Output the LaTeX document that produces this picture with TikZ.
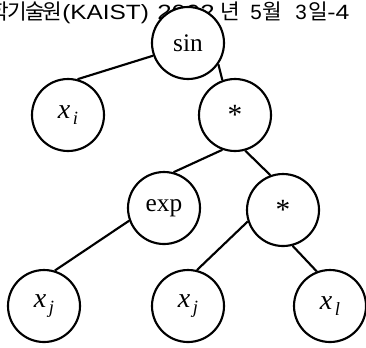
\documentclass[tikz,border=0pt]{standalone}
\usepackage{fontspec}
\setmainfont{Liberation Serif}
\newfontfamily\krfont[LetterSpace=-8]{Noto Sans CJK KR}
\newfontfamily\lsans{Liberation Sans}
\newcommand{\xvar}[1]{{\fontsize{21}{21}\selectfont\itshape x}\hspace{2pt}\raisebox{-4.5pt}{\fontsize{14}{14}\selectfont\itshape #1}}
\begin{document}
\begin{tikzpicture}[x=0.75pt,y=-0.75pt,
  tnode/.style={circle,draw=black,fill=white,line width=1.6pt,minimum size=54pt,inner sep=0pt,font=\fontsize{19}{19}\selectfont},
  kr/.style={anchor=base west,inner sep=0pt,font=\krfont\fontsize{16}{16}\selectfont},
  lat/.style={anchor=base west,inner sep=0pt,font=\lsans\fontsize{15.5}{15.5}\selectfont},
  edge/.style={draw=black,line width=1.6pt}]
\useasboundingbox (0,0) rectangle (366,347);
% header line (cut off at the left)
\node[kr] (h1) at (-29,19) {과학기술원};
\node[lat] (h2) at (62,19) {\scalebox{1.18}[1]{(KAIST)}};
\node[lat] (h3) at (157,19) {\scalebox{1.25}[1]{2002}};
\node[kr] (h4) at (220,19) {년};
\node[lat] (h5) at (250,19) {5};
\node[kr] (h6) at (262,19) {월};
\node[lat] (h7) at (295,19) {3};
\node[kr] (h8) at (308,19) {일};
\node[lat] (h9) at (327,19) {\scalebox{1.2}[1]{-4}};
% tree
\node[tnode] (sin) at (188,43) {sin};
\node[tnode] (xi) at (68,115) {\xvar{i}};
\node[tnode] (m1) at (235,115) {\raisebox{-0.12em}{\fontsize{22}{22}\selectfont *}};
\node[tnode] (exp) at (164,208) {exp};
\node[tnode] (m2) at (283,210) {\raisebox{-0.12em}{\fontsize{22}{22}\selectfont *}};
\node[tnode] (xj1) at (44,306) {\xvar{j}};
\node[tnode] (xj2) at (188,306) {\xvar{j}};
\node[tnode] (xl) at (330,306) {\xvar{l}};
\draw[edge] (sin.200) -- (xi.75);
\draw[edge] (sin.-35) -- (m1.110);
\draw[edge] (m1.250) -- (exp.75);
\draw[edge] (m1.-74) -- (m2.110);
\draw[edge] (exp.200) -- (xj1.73);
\draw[edge] (m2.198) -- (xj2.76);
\draw[edge] (m2.-75) -- (xl.111);
\end{tikzpicture}
\end{document}
